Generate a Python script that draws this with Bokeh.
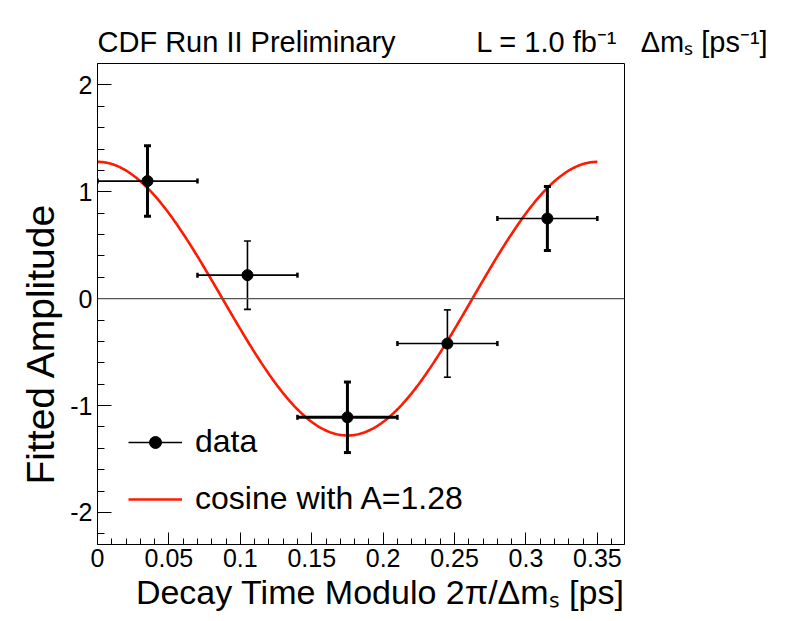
import math
import numpy as np
from bokeh.plotting import figure
from bokeh.models import (ColumnDataSource, Span, Legend, LegendItem, Title,
                          SingleIntervalTicker, CustomJSTickFormatter, Range1d)
from bokeh.embed import file_html
from bokeh.resources import INLINE

# ---------------- data ----------------
bin_center = [0.035, 0.105, 0.175, 0.245, 0.315]
bin_half_width = [0.035, 0.035, 0.035, 0.035, 0.035]
amplitude = [1.10, 0.22, -1.11, -0.42, 0.75]
amplitude_err = [0.33, 0.32, 0.33, 0.315, 0.30]

fit_amplitude = 1.28      # "cosine with A=1.28"
period = 0.35             # 2*pi / Delta m_s  [ps]

x_title = "Decay Time Modulo 2\u03c0/\u0394m\u209b [ps]"
y_title = "Fitted Amplitude"
NB = "\u00a0"
header = ("CDF Run II Preliminary" + NB * 10 + "L = 1.0 fb\u207b\u00b9"
          + NB * 3 + "\u0394m\u209b [ps\u207b\u00b9]")

# ---------------- styles ----------------
FONT = "Liberation Sans"
v_width = [3.0, 1.6, 3.0, 1.6, 3.0]
h_width = [1.6, 1.6, 3.0, 1.6, 1.6]

src = ColumnDataSource(dict(
    x=bin_center, y=amplitude,
    xl=[c - h for c, h in zip(bin_center, bin_half_width)],
    xr=[c + h for c, h in zip(bin_center, bin_half_width)],
    yl=[a - e for a, e in zip(amplitude, amplitude_err)],
    yh=[a + e for a, e in zip(amplitude, amplitude_err)],
    vw=v_width, hw=h_width,
))

curve_x = np.linspace(0.0, period, 300)
curve_y = fit_amplitude * np.cos(2 * np.pi * curve_x / period)

p = figure(frame_width=527, frame_height=481,
           min_border_left=97, min_border_right=177,
           min_border_top=63, min_border_bottom=77,
           x_range=Range1d(0, 0.369), y_range=Range1d(-2.3, 2.2),
           output_backend="svg", toolbar_location=None)
p.grid.visible = False
p.outline_line_color = "black"
p.outline_line_width = 1
p.background_fill_color = "white"
p.border_fill_color = "white"

# axes
xa = p.xaxis[0]
xa.ticker = SingleIntervalTicker(interval=0.05, num_minor_ticks=5)
xa.formatter = CustomJSTickFormatter(code="return String(Math.round(tick*100)/100)")
xa.major_tick_in = 12
xa.major_tick_out = 0
xa.minor_tick_in = 6
xa.minor_tick_out = 0
xa.major_label_standoff = 4

ya = p.yaxis[0]
ya.ticker = SingleIntervalTicker(interval=1, num_minor_ticks=5)
ya.formatter = CustomJSTickFormatter(code="return String(Math.round(tick))")
ya.major_tick_in = 14
ya.major_tick_out = 0
ya.minor_tick_in = 7
ya.minor_tick_out = 0
ya.major_label_standoff = 5
ya.major_label_orientation = "horizontal"

for ax in (xa, ya):
    ax.axis_line_color = "black"
    ax.major_tick_line_color = "black"
    ax.minor_tick_line_color = "black"
    ax.major_label_text_font = FONT
    ax.major_label_text_font_size = "25px"
    ax.major_label_text_color = "black"

# zero line
p.add_layout(Span(location=0, dimension="width", line_color="#555555", line_width=1.2))

# fit curve
curve_r = p.line(curve_x, curve_y, line_color="#ff1a00", line_width=2.6)

# error bars
h_r = p.segment(x0="xl", y0="y", x1="xr", y1="y", source=src,
                line_color="black", line_width="hw")
p.segment(x0="x", y0="yl", x1="x", y1="yh", source=src,
          line_color="black", line_width="vw")
p.scatter(x="x", y="yh", source=src, marker="dash", size=7, line_color="black", line_width="vw")
p.scatter(x="x", y="yl", source=src, marker="dash", size=7, line_color="black", line_width="vw")
p.scatter(x="xl", y="y", source=src, marker="dash", size=5, angle=math.pi / 2,
          line_color="black", line_width=2.5)
p.scatter(x="xr", y="y", source=src, marker="dash", size=5, angle=math.pi / 2,
          line_color="black", line_width=2.5)
pt_r = p.scatter(x="x", y="y", source=src, marker="circle", size=11,
                 fill_color="black", line_color="black")

# legend
legend = Legend(items=[
    LegendItem(label="data", renderers=[h_r, pt_r], index=0),
    LegendItem(label="cosine with A=1.28", renderers=[curve_r]),
], location=(31, 27))
legend.border_line_color = None
legend.background_fill_alpha = 0
legend.padding = 0
legend.margin = 0
legend.glyph_width = 54
legend.glyph_height = 30
legend.label_height = 30
legend.spacing = 20
legend.label_standoff = 13
legend.label_text_font = FONT
legend.label_text_font_size = "32px"
legend.label_text_color = "black"
p.add_layout(legend)

# titles
def make_title(text, size, align, standoff, offset=0):
    return Title(text=text, align=align, offset=offset, standoff=standoff,
                 text_font=FONT, text_font_size=size, text_font_style="normal",
                 text_color="black")

p.add_layout(make_title(header, "29px", "left", 12), "above")
p.add_layout(make_title(x_title, "34px", "right", 2), "below")
p.add_layout(make_title(y_title, "39px", "left", 12, offset=60), "left")

open("out.html", "w").write(file_html(p, INLINE))
